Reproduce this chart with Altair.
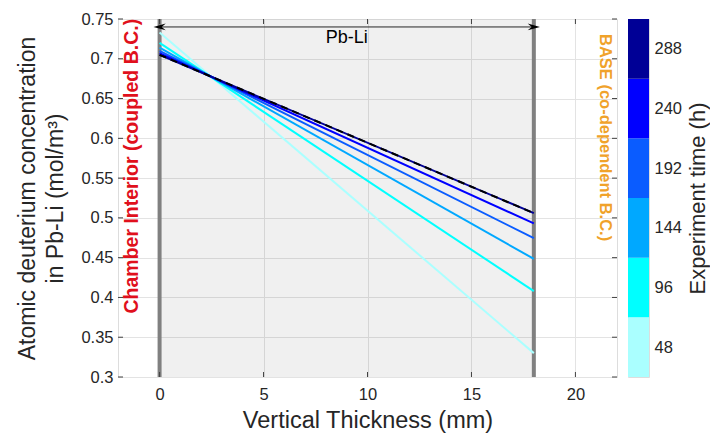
import altair as alt
import pandas as pd

# ---- data ----
times = [48, 96, 144, 192, 240, 288]
colors = ["#aaffff", "#00ffff", "#00a8ff", "#0a5cff", "#0000ff", "#000096"]
x_pos = [0, 18]
start_vals = [0.733, 0.720, 0.714, 0.710, 0.707, 0.705]
end_vals = [0.330, 0.408, 0.4485, 0.4745, 0.493, 0.506]
ref_vals = [0.705, 0.506]          # black dashed reference
x_ticks = [0, 5, 10, 15, 20]
y_ticks = [0.3, 0.35, 0.4, 0.45, 0.5, 0.55, 0.6, 0.65, 0.7, 0.75]
band_lo = [24, 72, 120, 168, 216, 264]
band_hi = [72, 120, 168, 216, 264, 312]

FONT = "Liberation Sans"
W, H = 499, 358

lines = pd.DataFrame(
    [{"t": t, "x": x_pos[0], "c": s} for t, s in zip(times, start_vals)]
    + [{"t": t, "x": x_pos[1], "c": e} for t, e in zip(times, end_vals)]
)
ref = pd.DataFrame({"x": x_pos, "c": ref_vals})

xs = alt.Scale(domain=[-2, 22], nice=False, zero=False)
ys = alt.Scale(domain=[0.3, 0.75], nice=False, zero=False)

X = lambda f="x": alt.X(f, type="quantitative", scale=xs, axis=alt.Axis(
    values=x_ticks, title="Vertical Thickness (mm)", grid=True, ticks=False,
    domain=False, labelPadding=9, titlePadding=6, labelFontSize=16.5,
    titleFontSize=23.5, labelFont=FONT, titleFont=FONT, labelColor="#262626",
    titleColor="#262626", titleFontWeight="normal", gridColor="#e3e3e3"))
Y = lambda f="c": alt.Y(f, type="quantitative", scale=ys, axis=alt.Axis(
    values=y_ticks, format=".2~f", title=["Atomic deuterium concentration", "in Pb-Li (mol/m³)"],
    grid=True, ticks=False, domain=False, labelPadding=5, titlePadding=13,
    labelFontSize=16.5, titleFontSize=23, titleLineHeight=28, labelFont=FONT,
    titleFont=FONT, labelColor="#262626", titleColor="#262626",
    titleFontWeight="normal", gridColor="#e3e3e3"))

region = pd.DataFrame({"x": [0], "x2": [18], "c": [0.3], "c2": [0.75]})
bg = alt.Chart(region).mark_rect(color="black", opacity=0.06).encode(
    x=X(), x2="x2", y=Y(), y2="c2")

walls = alt.Chart(pd.DataFrame({"x": x_pos})).mark_rule(
    color="#808080", strokeWidth=4).encode(x=X())

cl = alt.Chart(lines).mark_line(strokeWidth=2).encode(
    x=X(), y=Y(),
    color=alt.Color("t:O", scale=alt.Scale(domain=times, range=colors), legend=None),
    order="x:Q")

dash = alt.Chart(ref).mark_line(color="black", strokeWidth=2, strokeDash=[7, 5]).encode(
    x=X(), y=Y())

arrow_df = pd.DataFrame({"x": [0], "x2": [18], "c": [0.74]})
arrow = alt.Chart(arrow_df).mark_rule(color="#262626", strokeWidth=1).encode(
    x=X(), x2="x2", y=Y())
heads = pd.DataFrame({"x": x_pos, "c": [0.74, 0.74], "side": ["L", "R"]})
head_l = alt.Chart(heads[heads.side == "L"]).mark_point(
    shape="M -1 0 L 1 -0.55 L 0.35 0 L 1 0.55 Z", filled=True, color="black",
    size=150, opacity=1).encode(x=X(), y=Y())
head_r = alt.Chart(heads[heads.side == "R"]).mark_point(
    shape="M 1 0 L -1 -0.55 L -0.35 0 L -1 0.55 Z", filled=True, color="black",
    size=150, opacity=1).encode(x=X(), y=Y())

lab = pd.DataFrame({"x": [9], "c": [0.726], "txt": ["Pb-Li"]})
pbli = alt.Chart(lab).mark_text(font=FONT, fontSize=18, color="black",
                                baseline="middle").encode(x=X(), y=Y(), text="txt")

red_df = pd.DataFrame({"x": [-1.33], "c": [0.565], "txt": ["Chamber Interior (coupled B.C.)"]})
red = alt.Chart(red_df).mark_text(font=FONT, fontSize=19.5, fontWeight="bold", color="#e0101c",
                                  angle=270, baseline="middle", align="center").encode(
    x=X(), y=Y(), text="txt")
org_df = pd.DataFrame({"x": [21.44], "c": [0.601], "txt": ["BASE (co-dependent B.C.)"]})
org = alt.Chart(org_df).mark_text(font=FONT, fontSize=16.5, fontWeight="bold", color="#f0a22a",
                                  angle=90, baseline="middle", align="center").encode(
    x=X(), y=Y(), text="txt")

# inward tick marks on all four sides
xt = pd.DataFrame({"x": x_ticks})
yt = pd.DataFrame({"c": y_ticks})
tk = dict(color="#404040", strokeWidth=1)
tb = alt.Chart(xt).mark_rule(**tk).encode(x=X(), y=alt.value(H), y2=alt.value(H - 5))
tt = alt.Chart(xt).mark_rule(**tk).encode(x=X(), y=alt.value(0), y2=alt.value(5))
tl = alt.Chart(yt).mark_rule(**tk).encode(y=Y(), x=alt.value(0), x2=alt.value(5))
tr = alt.Chart(yt).mark_rule(**tk).encode(y=Y(), x=alt.value(W - 5), x2=alt.value(W))

main = alt.layer(bg, walls, cl, dash, arrow, head_l, head_r, pbli, red, org,
                 tb, tt, tl, tr).properties(width=W, height=H)

bands = pd.DataFrame({"t": times, "lo": band_lo, "hi": band_hi})
cbar = alt.Chart(bands).mark_rect().encode(
    y=alt.Y("lo:Q", scale=alt.Scale(domain=[24, 312], nice=False, zero=False),
            axis=alt.Axis(orient="right", values=times, title="Experiment time (h)",
                          ticks=False, domain=False, grid=False, labelPadding=5,
                          titlePadding=6, titleAngle=270, titleBaseline="top",
                          labelFontSize=16.5,
                          titleFontSize=22, labelFont=FONT, titleFont=FONT,
                          labelColor="#262626", titleColor="#262626",
                          titleFontWeight="normal")),
    y2="hi",
    color=alt.Color("t:O", scale=alt.Scale(domain=times, range=colors), legend=None),
).properties(width=21, height=H)

chart = alt.hconcat(main, cbar, spacing=9).properties(
    padding={"left": 16, "top": 10, "right": 0, "bottom": 0}
).configure_view(stroke="#707070", strokeWidth=1).configure(background="white")

chart.save("out.html", embed_options={"renderer": "svg", "actions": False})
